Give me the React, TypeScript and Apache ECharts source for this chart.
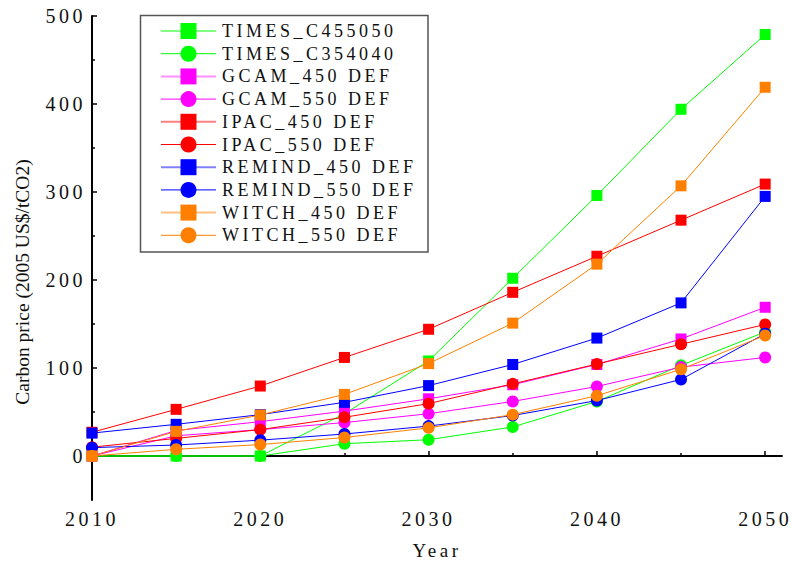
import React, { useEffect, useRef } from "react";
import * as echarts from "echarts";

const years = [2010, 2015, 2020, 2025, 2030, 2035, 2040, 2045, 2050];
const timesC455050 = [0, 0, 0, 48, 108, 202, 296, 394, 479];
const timesC354040 = [0, 0, 0, 14, 18.5, 33, 62, 103, 141];
const gcam450 = [0, 29, 39, 51, 65, 81, 104, 133, 169];
const gcam550 = [0, 23, 30, 38, 48, 62, 79, 101, 112];
const ipac450 = [27, 53, 79.5, 112, 144, 186, 227, 268, 309];
const ipac550 = [10, 20, 30, 44, 59.5, 82, 104.5, 127, 149.5];
const remind450 = [26, 36, 47, 61, 80, 104, 134, 174, 295];
const remind550 = [9.5, 12.5, 18, 25, 34, 46, 63, 87, 139];
const witch450 = [0, 28, 46.6, 70, 105, 151, 218, 307, 419];
const witch550 = [0, 7.6, 13, 21, 32, 47, 68.5, 98.5, 137];

const seriesNames = [
  "TIMES_C455050",
  "TIMES_C354040",
  "GCAM_450 DEF",
  "GCAM_550 DEF",
  "IPAC_450 DEF",
  "IPAC_550 DEF",
  "REMIND_450 DEF",
  "REMIND_550 DEF",
  "WITCH_450 DEF",
  "WITCH_550 DEF",
];
const seriesValues = [
  timesC455050, timesC354040, gcam450, gcam550, ipac450, ipac550,
  remind450, remind550, witch450, witch550,
];
const seriesColors = [
  "#00FF00", "#00FF00", "#FF00FF", "#FF00FF", "#FF0000", "#FF0000",
  "#0000FF", "#0000FF", "#FF8000", "#FF8000",
];
const legendLineColors = [
  "#80FF80", "#00FF00", "#FF90FF", "#FF00FF", "#FF8080", "#FF0000",
  "#8080FF", "#0000FF", "#FFC080", "#FF8000",
];
const seriesSymbols = ["rect", "circle", "rect", "circle", "rect", "circle", "rect", "circle", "rect", "circle"];

const xMajorTicks = [2010, 2020, 2030, 2040, 2050];
const xMinorTicks = [2015, 2025, 2035, 2045];
const yMajorTicks = [0, 100, 200, 300, 400, 500];
const yMinorTicks = [50, 150, 250, 350, 450];

const FONT = "Liberation Serif";

export default function App() {
  const ref = useRef<HTMLDivElement>(null);
  useEffect(() => {
    if (!ref.current) return;
    const chart = echarts.init(ref.current, undefined, { renderer: "svg" });
    const xBase = { type: "value", min: 2010, max: 2051, interval: 5, position: "bottom", splitLine: { show: false } };
    const yBase = { type: "value", min: -50, max: 500, interval: 50, position: "left", splitLine: { show: false } };
    chart.setOption({
      animation: false,
      backgroundColor: "#fff",
      grid: { left: 92, right: 10, top: 16, bottom: 61 },
      xAxis: [
        {
          ...xBase,
          axisLine: { show: true, lineStyle: { color: "#000", width: 2 } },
          axisTick: { show: true, inside: true, length: 5, customValues: xMajorTicks, lineStyle: { color: "#000", width: 1.5 } },
          axisLabel: {
            customValues: xMajorTicks,
            formatter: (v: number) => String(v),
            color: "#111",
            fontSize: 20,
            fontFamily: FONT,
            margin: 9,
          },
        },
        {
          ...xBase,
          axisLine: { show: false },
          axisTick: { show: true, inside: true, length: 3, customValues: xMinorTicks, lineStyle: { color: "#000", width: 1.5 } },
          axisLabel: { show: false },
        },
      ],
      yAxis: [
        {
          ...yBase,
          axisLine: { show: true, lineStyle: { color: "#000", width: 2 } },
          axisTick: { show: true, inside: true, length: 5, customValues: yMajorTicks, lineStyle: { color: "#000", width: 1.5 } },
          axisLabel: {
            customValues: yMajorTicks,
            formatter: (v: number) => String(v),
            color: "#111",
            fontSize: 20,
            fontFamily: FONT,
            margin: 6,
          },
        },
        {
          ...yBase,
          axisLine: { show: false },
          axisTick: { show: true, inside: true, length: 3, customValues: yMinorTicks, lineStyle: { color: "#000", width: 1.5 } },
          axisLabel: { show: false },
        },
      ],
      legend: {
        data: seriesNames.map((name, i) => ({
          name,
          lineStyle: { color: legendLineColors[i], width: i % 2 === 0 ? 2 : 1 },
        })),
        orient: "vertical",
        left: 160,
        top: 22,
        padding: 0,
        itemWidth: 55,
        itemHeight: 20,
        itemGap: 4.7,
        textStyle: { color: "#111", fontSize: 18, fontFamily: FONT, padding: [0, 0, 0, 1] },
      },
      graphic: [
        {
          type: "rect",
          shape: { x: 140.5, y: 15.5, width: 287.5, height: 236.5 },
          style: { fill: "none", stroke: "#555", lineWidth: 1.5 },
          z: 1,
        },
        {
          type: "text",
          x: 437,
          y: 550,
          style: { text: "Year", fill: "#111", fontSize: 19, fontFamily: FONT, align: "center", verticalAlign: "middle" },
        },
        {
          type: "text",
          x: 22,
          y: 282,
          rotation: Math.PI / 2,
          style: {
            text: "Carbon price (2005 US$/tCO2)",
            fill: "#111",
            fontSize: 19.5,
            fontFamily: FONT,
            align: "center",
            verticalAlign: "middle",
          },
        },
      ],
      series: seriesNames.map((name, i) => ({
        name,
        type: "line",
        xAxisIndex: 0,
        yAxisIndex: 0,
        data: years.map((yr, j) => [yr, seriesValues[i][j]]),
        symbol: seriesSymbols[i],
        symbolSize: seriesSymbols[i] === "rect" ? 11 : 12,
        showSymbol: true,
        itemStyle: { color: seriesColors[i] },
        lineStyle: { color: seriesColors[i], width: 1 },
        z: 2 + i * 0.01,
      })),
    });
    return () => chart.dispose();
  }, []);
  return (
    <div>
      <style>{`.cbox svg text { letter-spacing: 3.5px; } .cbox svg text[style*="19.5px"] { letter-spacing: 0; }`}</style>
      <div className="cbox" ref={ref} style={{ position: "fixed", left: 0, top: 0, width: 792, height: 561 }} />
    </div>
  );
}
